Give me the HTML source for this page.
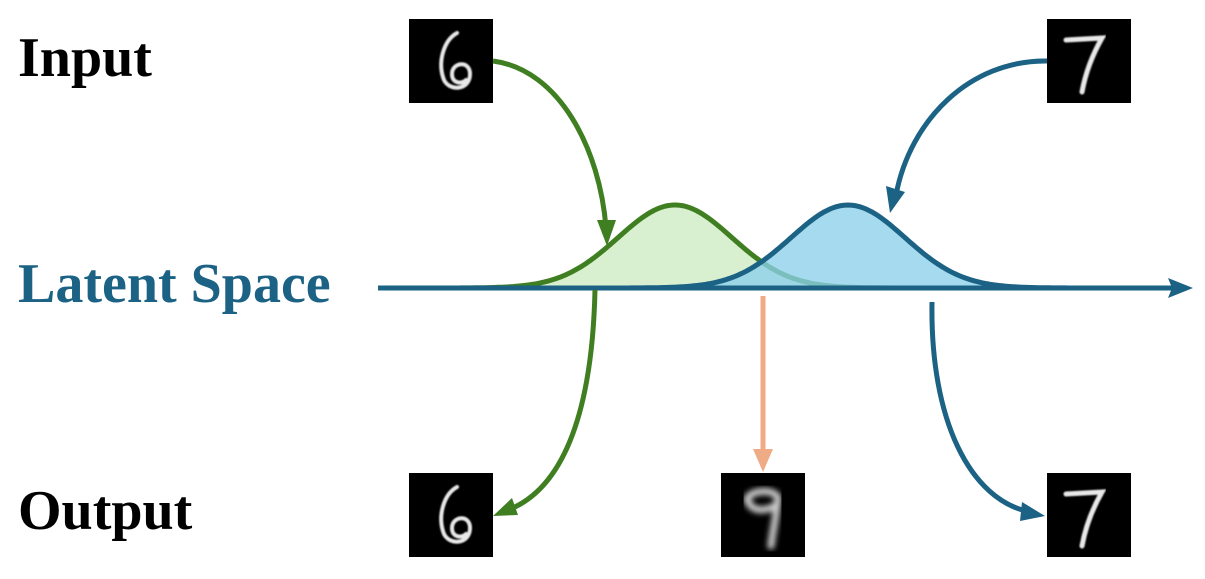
<!DOCTYPE html>
<html><head><meta charset="utf-8"><style>
html,body{margin:0;padding:0;background:#fff;width:1205px;height:579px;overflow:hidden}
svg{display:block}
text{font-family:"Liberation Serif",serif;font-weight:bold;font-size:56px}
</style></head><body>
<svg id="s" width="1205" height="579" viewBox="0 0 1205 579">
<defs>
<filter id="b1"><feGaussianBlur stdDeviation="0.8"/></filter>
<filter id="b3"><feGaussianBlur stdDeviation="3"/></filter>
</defs>
<text x="18" y="76" fill="#000">Input</text>
<text x="18" y="302" fill="#1b6285">Latent Space</text>
<text x="18" y="529" fill="#000">Output</text>

<path id="gf" fill="#d8f0cf" stroke="none"/>
<path id="gs" fill="none" stroke="#3f7f22" stroke-width="5"/>
<path id="bf" fill="#8ccfea" fill-opacity="0.78" stroke="none"/>
<path id="bs" fill="none" stroke="#1b6285" stroke-width="5"/>

<line x1="378" y1="288" x2="1175" y2="288" stroke="#1b6285" stroke-width="5"/>
<polygon points="1193,288 1168,278 1172,288 1168,298" fill="#1b6285"/>

<rect x="409" y="19" width="84" height="84" fill="#000"/>
<path d="M457 33 C444 40 437 62 444 80 C450 92 470 90 470 74 C470 60 452 62 452 74 C452 84 462 84 466 80" fill="none" stroke="#e8e8e8" stroke-width="4" stroke-linecap="round" filter="url(#b1)"/>
<rect x="1047" y="19" width="84" height="84" fill="#000"/>
<path d="M1066 40 L1102 38 C1094 52 1086 70 1082 92" fill="none" stroke="#e8e8e8" stroke-width="5" stroke-linecap="round" filter="url(#b1)"/>
<rect x="409" y="473" width="84" height="84" fill="#000"/>
<path d="M457 487 C444 494 437 516 444 534 C450 546 470 544 470 528 C470 514 452 516 452 528 C452 538 462 538 466 534" fill="none" stroke="#e8e8e8" stroke-width="4" stroke-linecap="round" filter="url(#b1)"/>
<rect x="721" y="473" width="84" height="84" fill="#000"/>
<path d="M747 500 C748 490 775 488 778 498 C776 520 772 534 771 546 M748 500 C750 512 766 512 776 505" fill="none" stroke="#cfcfcf" stroke-width="7" stroke-linecap="round" filter="url(#b3)"/>
<rect x="1047" y="473" width="84" height="84" fill="#000"/>
<path d="M1066 494 L1102 492 C1094 506 1086 524 1082 546" fill="none" stroke="#e8e8e8" stroke-width="5" stroke-linecap="round" filter="url(#b1)"/>

<path d="M493 61 C560 70 600 150 606 228" fill="none" stroke="#3f7f22" stroke-width="5"/>
<polygon points="607,246 597,220 616,220" fill="#3f7f22"/>
<path d="M1047 61 C970 60 910 120 896 195" fill="none" stroke="#1b6285" stroke-width="5"/>
<polygon points="890,213 886,186 905,192" fill="#1b6285"/>
<path d="M595 290 C592 420 560 490 508 510" fill="none" stroke="#3f7f22" stroke-width="5"/>
<polygon points="493,516 512,498 518,515" fill="#3f7f22"/>
<line x1="763" y1="296" x2="763" y2="455" stroke="#efab85" stroke-width="5"/>
<polygon points="763,472 753,449 773,449" fill="#efab85"/>
<path d="M932 302 C930 420 970 500 1030 512" fill="none" stroke="#1b6285" stroke-width="5"/>
<polygon points="1045,516 1022,502 1020,521" fill="#1b6285"/>
</svg>
<script>
function g(c,x0,x1,s){var p=[];for(var x=x0;x<=x1;x+=2){p.push(x+","+(288-83*Math.exp(-Math.pow((x-c)/s,2)/2)).toFixed(1));}return p;}
var a=g(675,460,890,57),b=g(848,630,1070,57);
document.getElementById('gf').setAttribute('d','M'+a.join(' L')+' Z');
document.getElementById('gs').setAttribute('d','M'+a.join(' L'));
document.getElementById('bf').setAttribute('d','M'+b.join(' L')+' Z');
document.getElementById('bs').setAttribute('d','M'+b.join(' L'));
</script>
</body></html>
